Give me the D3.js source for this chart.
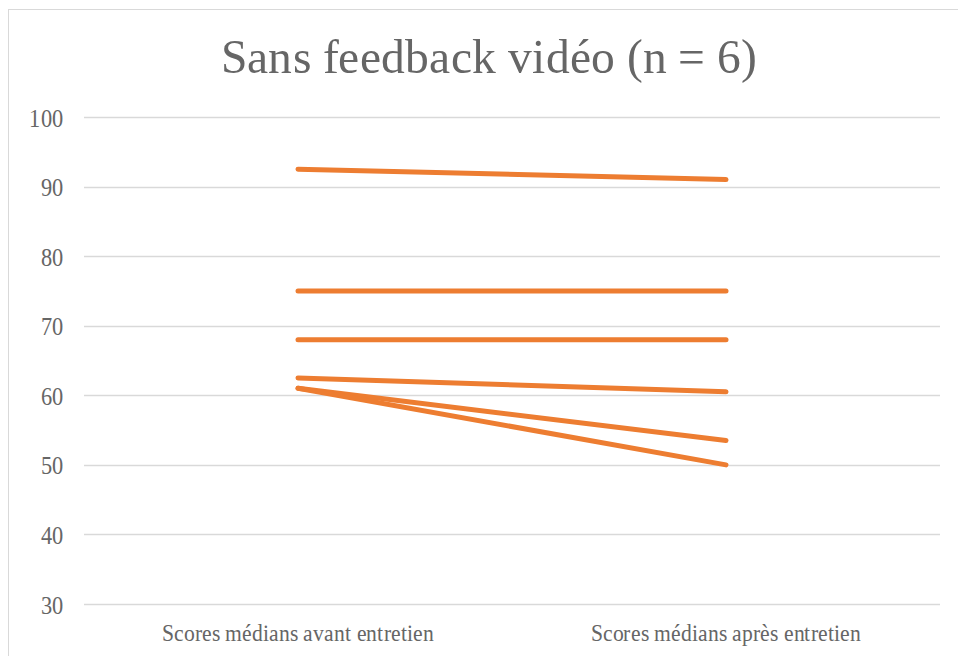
<!DOCTYPE html>
<html>
<head>
<meta charset="utf-8">
<script src="https://cdn.jsdelivr.net/npm/d3@7"></script>
<style>
  @font-face { font-family: 'ChartSerif'; src: local('Liberation Serif'), local('LiberationSerif'), local('Tinos'); }
  body { margin: 0; background: #fff; }
</style>
</head>
<body>
<svg id="chart" width="958" height="656"></svg>
<script>
// données
var categories = ['Scores médians avant entretien', 'Scores médians après entretien'];
var avant = [92.5, 75, 68, 62.5, 61, 61];
var apres = [91, 75, 68, 60.5, 53.5, 50];
var yTicks = [30, 40, 50, 60, 70, 80, 90, 100];
var titre = 'Sans feedback vidéo (n = 6)';

var police = 'ChartSerif, "Liberation Serif", Tinos, serif';
var gris = '#666666';

var svg = d3.select('#chart');

// texte un peu resserré comme dans l'original
function squeeze(sel, k) {
  sel.each(function() {
    var w = this.getComputedTextLength();
    d3.select(this).attr('textLength', w * k).attr('lengthAdjust', 'spacingAndGlyphs');
  });
}

// cadre du graphique
svg.append('rect')
  .attr('x', 8.5).attr('y', 9.5)
  .attr('width', 960).attr('height', 660)
  .attr('fill', 'none')
  .attr('stroke', '#d9d9d9');

var x = d3.scaleBand().domain(categories).range([84, 940]);
var y = d3.scaleLinear().domain([30, 100]).range([604, 117]);

// grille
svg.append('g').selectAll('line').data(yTicks)
  .enter().append('line')
  .attr('x1', 84).attr('x2', 940)
  .attr('y1', function(d) { return Math.round(y(d)) + 0.5; })
  .attr('y2', function(d) { return Math.round(y(d)) + 0.5; })
  .attr('stroke', '#d9d9d9')
  .attr('stroke-width', 1.3);

var yAxis = svg.append('g')
  .attr('transform', 'translate(63,0)')
  .call(d3.axisLeft(y).tickValues(yTicks).tickSize(0).tickPadding(0));
yAxis.select('.domain').remove();
yAxis.attr('font-family', null).attr('font-size', null);
yAxis.selectAll('text')
  .attr('dy', '0.35em')
  .style('font-family', police)
  .style('font-size', '26px')
  .attr('fill', gris);

var xAxis = svg.append('g')
  .attr('transform', 'translate(0,604)')
  .call(d3.axisBottom(x).tickSize(0).tickPadding(0));
xAxis.select('.domain').remove();
xAxis.attr('font-family', null).attr('font-size', null);
xAxis.selectAll('text')
  .attr('y', 37)
  .attr('dy', 0)
  .style('font-family', police)
  .style('font-size', '24px')
  .attr('fill', gris);

// lignes avant -> après
var pairs = avant.map(function(v, i) { return [v, apres[i]]; });
var line = d3.line()
  .x(function(d, i) { return x(categories[i]) + x.bandwidth() / 2; })
  .y(function(d) { return y(d); });

svg.append('g').selectAll('path').data(pairs)
  .enter().append('path')
  .attr('d', line)
  .attr('fill', 'none')
  .attr('stroke', '#ed7d31')
  .attr('stroke-width', 5)
  .attr('stroke-linecap', 'round');

svg.append('text')
  .attr('x', 489).attr('y', 73)
  .attr('text-anchor', 'middle')
  .style('font-family', police)
  .style('font-size', '49px')
  .attr('fill', gris)
  .attr('textLength', 536)
  .attr('lengthAdjust', 'spacingAndGlyphs')
  .text(titre);

// resserrer une fois la mise en page faite
yAxis.selectAll('text').call(squeeze, 0.86);
xAxis.selectAll('text').call(squeeze, 0.9);
</script>
</body>
</html>
